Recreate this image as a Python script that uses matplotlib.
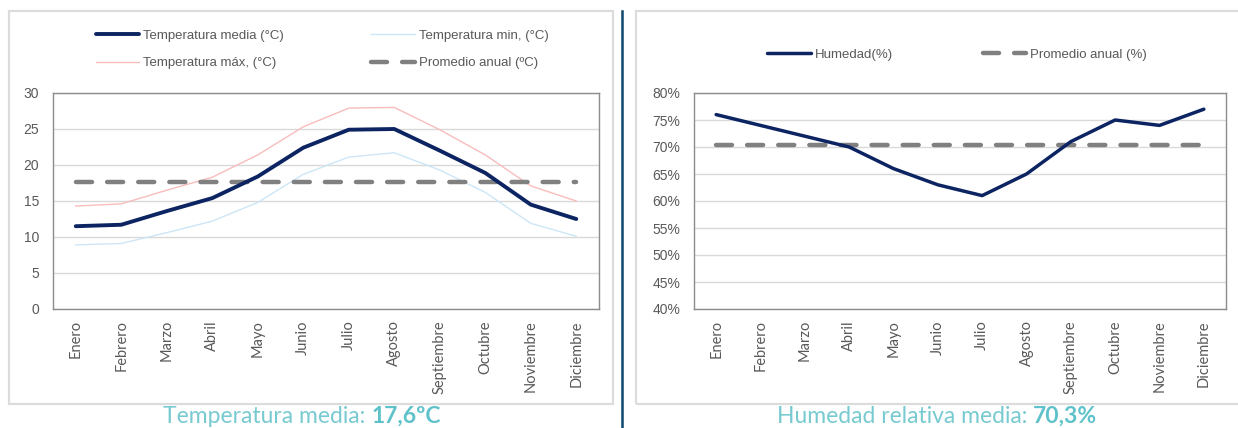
import matplotlib
matplotlib.use('Agg')
import matplotlib.pyplot as plt
from matplotlib.lines import Line2D
from matplotlib.patches import Rectangle
from matplotlib.ticker import FuncFormatter, MultipleLocator
from matplotlib.offsetbox import TextArea, HPacker, AnnotationBbox

# ── Data ─────────────────────────────────────────────────────────────────────
meses = ["Enero", "Febrero", "Marzo", "Abril", "Mayo", "Junio", "Julio",
         "Agosto", "Septiembre", "Octubre", "Noviembre", "Diciembre"]
temp_media = [11.5, 11.7, 13.6, 15.4, 18.4, 22.4, 24.9, 25.0, 22.0, 18.9, 14.5, 12.5]
temp_max = [14.3, 14.6, 16.5, 18.3, 21.4, 25.3, 27.9, 28.0, 24.9, 21.4, 17.1, 15.0]
temp_min = [8.9, 9.1, 10.6, 12.2, 14.8, 18.7, 21.1, 21.7, 19.3, 16.2, 11.9, 10.1]
temp_promedio = 17.6
humedad = [76, 74, 72, 70, 66, 63, 61, 65, 71, 75, 74, 77]
humedad_promedio = 70.3

# ── Style ────────────────────────────────────────────────────────────────────
NAVY = "#0c2461"
GRAY_DASH = "#808080"
MIN_C = "#cde6f7"
MAX_C = "#f9bcbc"
GRID = "#d9d9d9"
TXT = "#595959"
TEAL = "#5fc2ca"
TEAL_LIGHT = "#78cad1"
FONT = "Liberation Sans"
TICKFONT = "Lato"

W, H = 1238, 428
fig = plt.figure(figsize=(W / 100, H / 100), dpi=100)


def fx(px):
    return px / W


def fy(py):
    return 1 - py / H


def style_axes(ax):
    ax.set_xlim(-0.5, len(meses) - 0.5)
    ax.set_xticks(range(len(meses)))
    ax.set_xticklabels(meses, rotation=90, fontsize=10.5, family=TICKFONT,
                       color=TXT, va="top")
    ax.tick_params(axis="both", length=0)
    ax.tick_params(axis="x", pad=8)
    ax.tick_params(axis="y", pad=10, labelsize=10, labelcolor=TXT)
    for lab in ax.get_yticklabels():
        lab.set_family(FONT)
    ax.grid(axis="y", color=GRID, lw=1)
    ax.set_axisbelow(True)
    for s in ax.spines.values():
        s.set_color("#8c8c8c")
        s.set_linewidth(1)


# panel frames and separator
fig.patches.append(Rectangle((fx(9), fy(404)), fx(613 - 9), fy(11) - fy(404),
                             transform=fig.transFigure, fill=False,
                             edgecolor="#dcdcdc", lw=1.6))
fig.patches.append(Rectangle((fx(636), fy(404)), fx(1250 - 636), fy(11) - fy(404),
                             transform=fig.transFigure, fill=False,
                             edgecolor="#dcdcdc", lw=1.6))
fig.add_artist(Line2D([fx(621.5), fx(621.5)], [fy(11), 0],
                      transform=fig.transFigure, color="#10456f", lw=1.8))

# ── Left: temperature ───────────────────────────────────────────────────────
ax1 = fig.add_axes([fx(53), fy(309), fx(599 - 53), fy(93) - fy(309)])
x = range(len(meses))
l_media, = ax1.plot(x, temp_media, color=NAVY, lw=2.8, solid_capstyle="round",
                    label="Temperatura media (°C)", zorder=4)
l_min, = ax1.plot(x, temp_min, color=MIN_C, lw=1.0,
                  label="Temperatura min, (°C)", zorder=3)
l_max, = ax1.plot(x, temp_max, color=MAX_C, lw=1.0,
                  label="Temperatura máx, (°C)", zorder=3)
l_prom, = ax1.plot(x, [temp_promedio] * len(meses), color=GRAY_DASH, lw=3.2,
                   dashes=(3.6, 3.4), dash_capstyle="round",
                   label="Promedio anual (ºC)", zorder=3)
ax1.set_ylim(0, 30)
ax1.yaxis.set_major_locator(MultipleLocator(5))
style_axes(ax1)

fig.legend(handles=[l_media, l_max, l_min, l_prom], ncol=2,
           loc="center", bbox_to_anchor=(fx(322), fy(49.5)),
           frameon=False, prop={"family": FONT, "size": 9.5},
           labelcolor=TXT, handlelength=3.3, handletextpad=0.3,
           columnspacing=6.6, labelspacing=1.15)

# ── Right: humidity ─────────────────────────────────────────────────────────
ax2 = fig.add_axes([fx(694), fy(309), fx(1226 - 694), fy(93) - fy(309)])
h_hum, = ax2.plot(x, humedad, color=NAVY, lw=2.5, solid_capstyle="round",
                  label="Humedad(%)", zorder=4)
h_prom, = ax2.plot(x, [humedad_promedio] * len(meses), color=GRAY_DASH, lw=3.2,
                   dashes=(3.6, 3.4), dash_capstyle="round",
                   label="Promedio anual (%)", zorder=3)
ax2.set_ylim(40, 80)
ax2.yaxis.set_major_locator(MultipleLocator(5))
ax2.yaxis.set_major_formatter(FuncFormatter(lambda v, p: f"{v:.0f}%"))
style_axes(ax2)

fig.legend(handles=[h_hum, h_prom], ncol=2,
           loc="center", bbox_to_anchor=(fx(957), fy(54.5)),
           frameon=False, prop={"family": FONT, "size": 9.5},
           labelcolor=TXT, handlelength=3.3, handletextpad=0.3,
           columnspacing=6.8)


# ── Captions ────────────────────────────────────────────────────────────────
def caption(light, bold, xc):
    parts = [TextArea(light, textprops=dict(color=TEAL_LIGHT, family="Lato",
                                            weight="normal", size=16.5)),
             TextArea(bold, textprops=dict(color=TEAL, family="Lato",
                                           weight="bold", size=16.5))]
    box = HPacker(children=parts, pad=0, sep=0, align="baseline")
    ab = AnnotationBbox(box, (fx(xc), fy(416.5)), xycoords="figure fraction",
                        frameon=False, box_alignment=(0.5, 0.5))
    fig.add_artist(ab)


caption("Temperatura media: ", "17,6ºC", 302)
caption("Humedad relativa media: ", "70,3%", 937)

fig.savefig("out.png", dpi=100, facecolor="white")
